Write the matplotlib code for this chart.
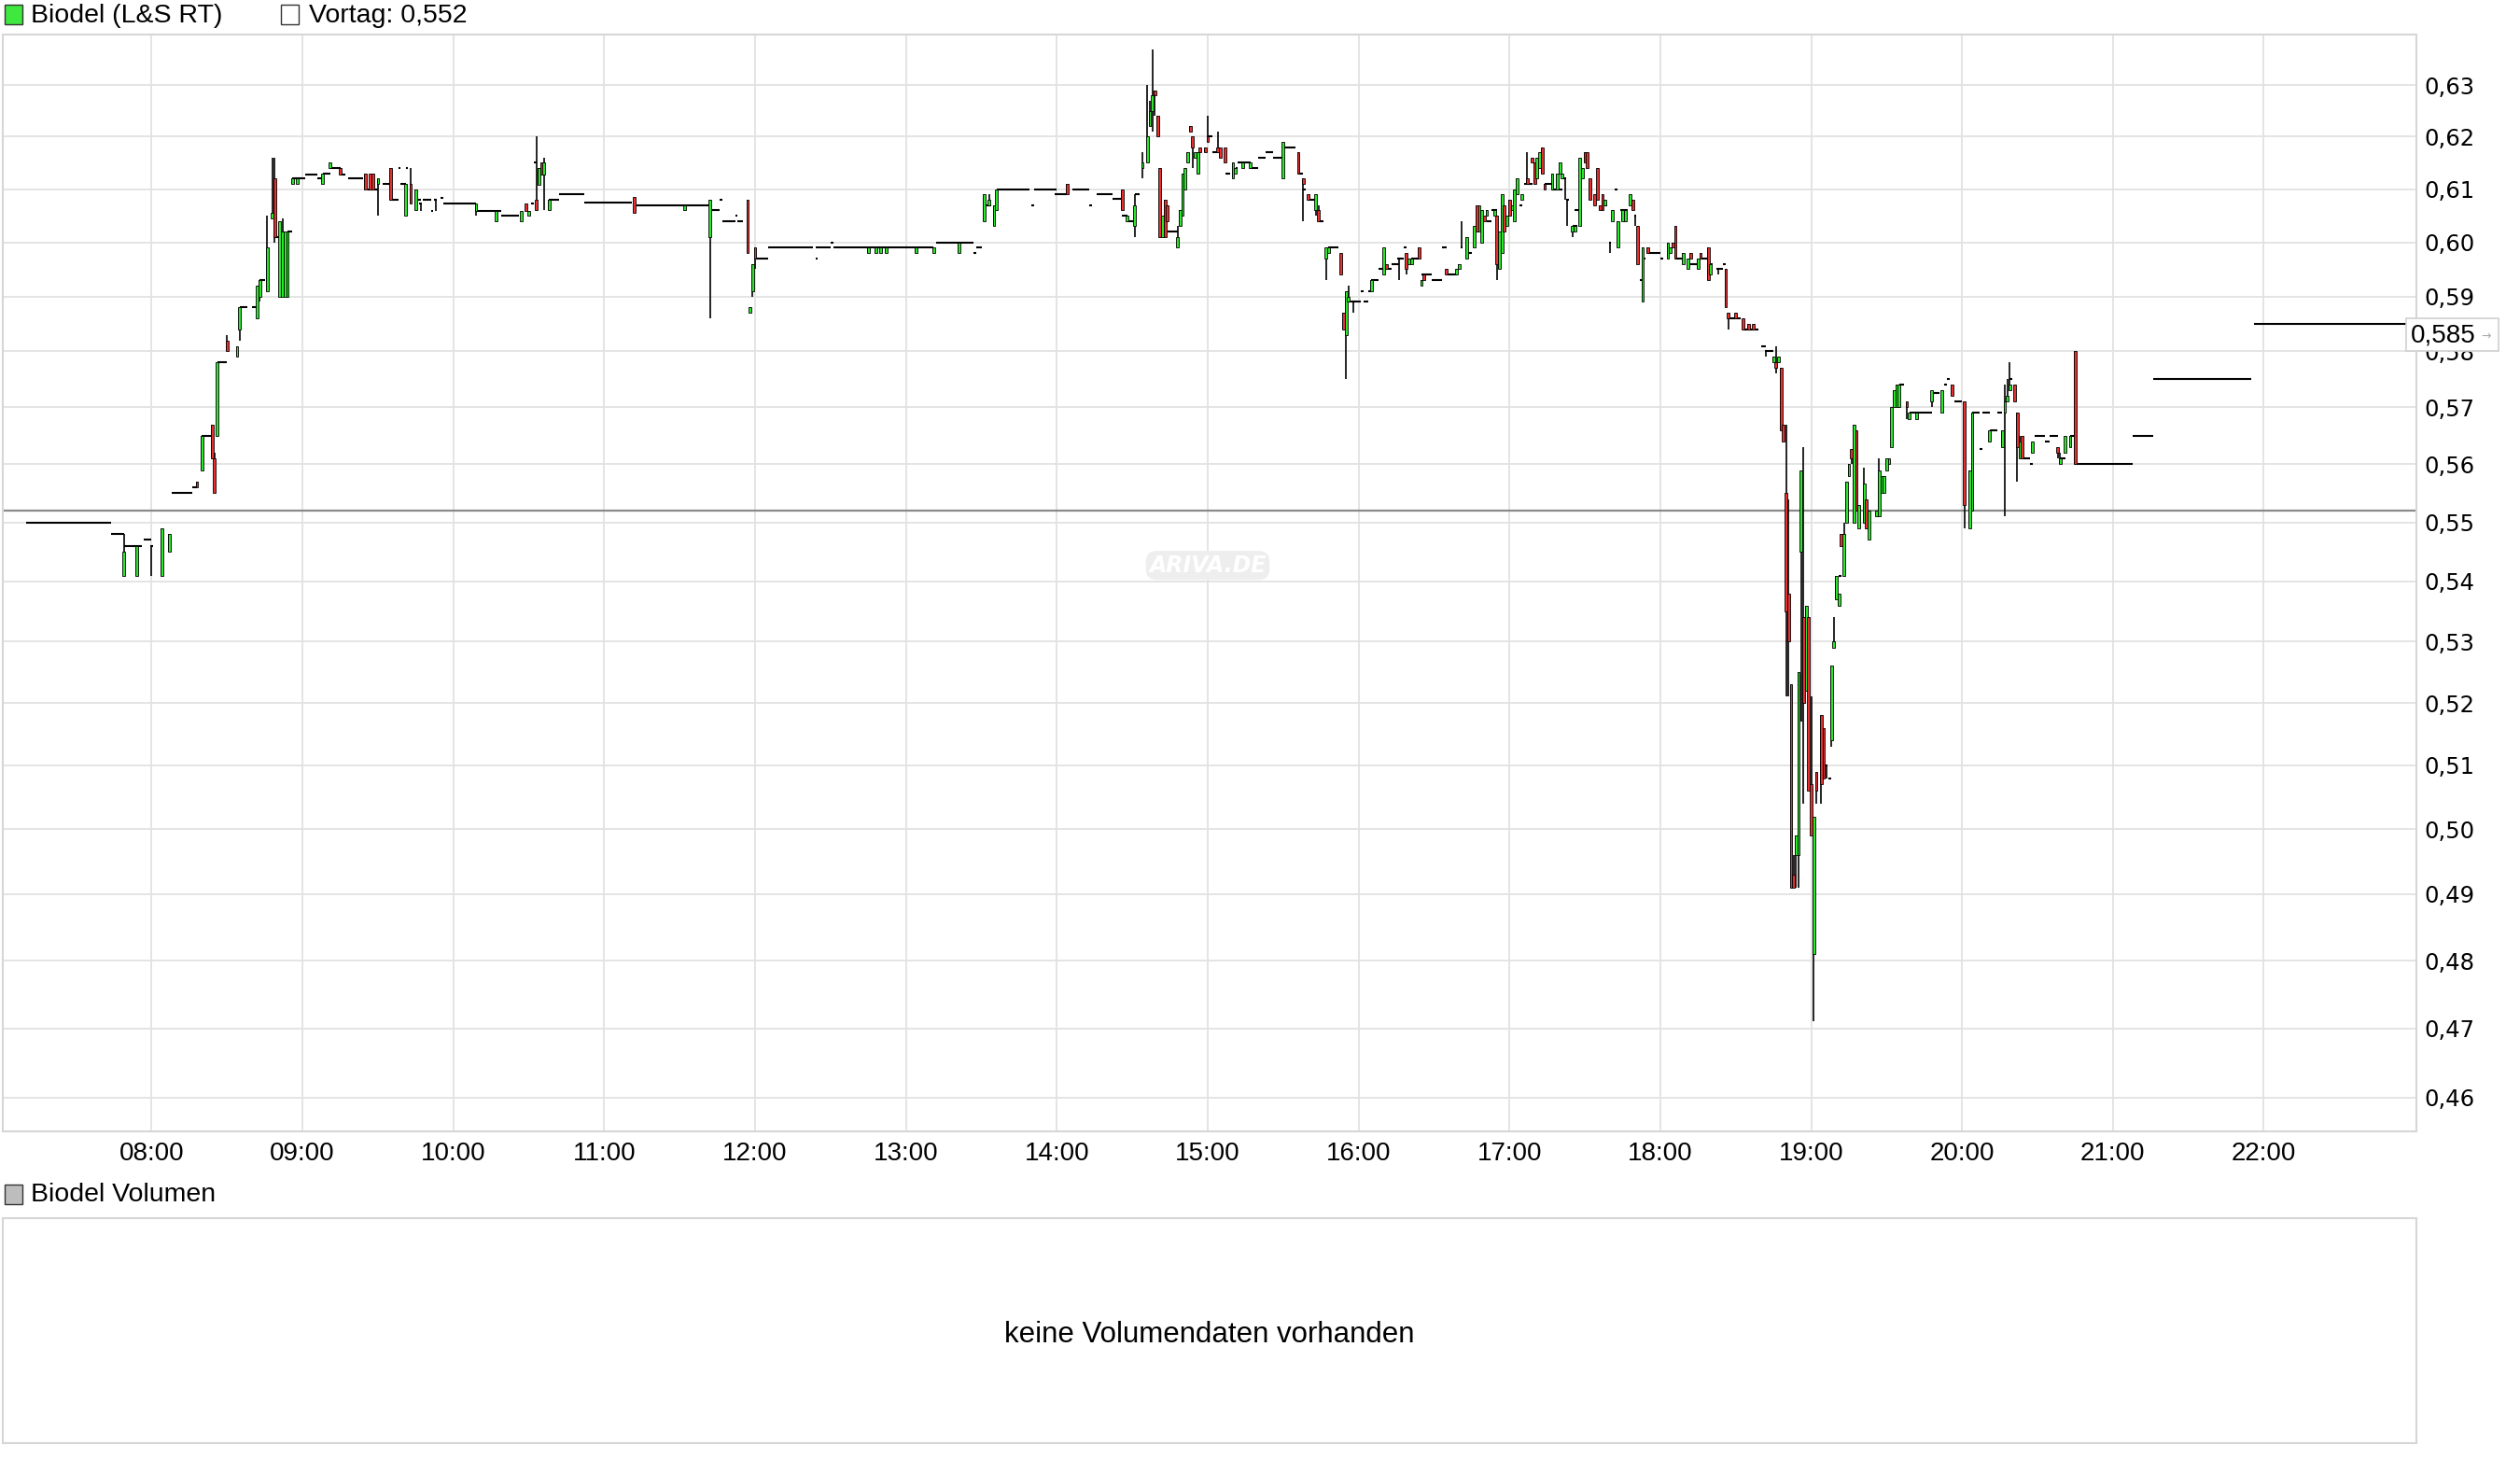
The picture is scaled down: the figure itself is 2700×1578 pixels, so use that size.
import matplotlib
matplotlib.use("Agg")
import matplotlib.pyplot as plt
from matplotlib.patches import Rectangle
from matplotlib.ticker import FixedLocator, FixedFormatter, NullLocator

# ---------------- data ----------------
title_text = "Biodel (L&S RT)"
prev_close = 0.552
last_price = 0.585

candle_time = [
 "07:49","07:54","08:00","08:04","08:07","08:18","08:20","08:24","08:25","08:26",
 "08:30","08:34","08:35","08:42","08:43","08:46","08:48","08:49","08:51","08:52",
 "08:53","08:54","08:56","08:58","09:08","09:11","09:15","09:25","09:27","09:28",
 "09:30","09:35","09:41","09:43","09:45","09:47","09:53","10:09","10:17","10:27",
 "10:29","10:30","10:33","10:34","10:35","10:36","10:38","11:12","11:32","11:42",
 "11:57","11:58","11:59","12:00","12:45","12:48","12:50","12:52","13:04","13:11",
 "13:21","13:31","13:33","13:35","13:36","14:04","14:26","14:28","14:31","14:34",
 "14:36","14:37","14:38","14:39","14:40","14:41","14:42","14:43","14:44","14:48",
 "14:49","14:50","14:51","14:52","14:53","14:54","14:55","14:56","14:57","14:59",
 "15:00","15:04","15:05","15:07","15:10","15:11","15:14","15:17","15:30","15:36",
 "15:38","15:40","15:43","15:44","15:47","15:48","15:53","15:54","15:55","15:56",
 "15:58","16:05","16:10","16:11","16:16","16:19","16:20","16:21","16:24","16:25",
 "16:26","16:35","16:39","16:40","16:41","16:43","16:46","16:47","16:48","16:49",
 "16:50","16:51","16:54","16:55","16:56","16:57","16:58","16:59","17:00","17:01",
 "17:02","17:03","17:05","17:07","17:09","17:10","17:11","17:12","17:13","17:14",
 "17:17","17:19","17:20","17:21","17:22","17:23","17:25","17:26","17:28","17:29",
 "17:30","17:31","17:32","17:34","17:35","17:36","17:37","17:38","17:40","17:41",
 "17:43","17:45","17:46","17:48","17:49","17:50","17:51","17:53","17:55","18:03",
 "18:04","18:05","18:06","18:09","18:11","18:12","18:15","18:16","18:19","18:20",
 "18:23","18:26","18:27","18:30","18:33","18:35","18:37","18:42","18:45","18:46",
 "18:47","18:48","18:49","18:50","18:51","18:52","18:53","18:54","18:55","18:56",
 "18:57","18:58","18:59","19:00","19:01","19:02","19:04","19:05","19:06","19:08",
 "19:09","19:10","19:11","19:12","19:13","19:14","19:15","19:16","19:17","19:18",
 "19:19","19:21","19:22","19:23","19:26","19:27","19:28","19:29","19:30","19:31",
 "19:32","19:33","19:34","19:35","19:38","19:39","19:42","19:48","19:52","19:56",
 "20:01","20:03","20:04","20:11","20:16","20:17","20:18","20:19","20:21","20:22",
 "20:23","20:24","20:28","20:38","20:39","20:41","20:43","20:45",
]
candle_open = [
 .541,.541,.546,.541,.545,.557,.559,.567,.561,.565,
 .582,.579,.584,.586,.590,.591,.6045,.612,.590,.590,
 .590,.590,.611,.611,.611,.614,.614,.613,.613,.613,
 .611,.614,.605,.611,.606,.6073,.608,.6059,.6039,.6039,
 .6073,.605,.608,.6108,.615,.6128,.606,.6085,.606,.601,
 .608,.587,.591,.599,.598,.598,.598,.598,.598,.598,
 .598,.604,.607,.603,.606,.611,.610,.604,.603,.614,
 .615,.622,.625,.629,.624,.614,.601,.608,.607,.599,
 .603,.605,.610,.615,.622,.620,.616,.613,.618,.618,
 .620,.618,.618,.618,.612,.613,.614,.614,.612,.617,
 .612,.609,.606,.606,.597,.598,.598,.587,.583,.589,
 .589,.591,.594,.596,.597,.598,.596,.596,.599,.592,
 .594,.595,.594,.595,.599,.597,.599,.607,.602,.600,
 .605,.605,.605,.605,.595,.598,.607,.603,.608,.606,
 .604,.609,.608,.612,.616,.615,.612,.614,.618,.611,
 .610,.610,.613,.612,.612,.608,.602,.602,.603,.612,
 .617,.617,.612,.609,.614,.607,.609,.607,.600,.604,
 .599,.604,.604,.607,.608,.605,.603,.589,.599,.597,
 .598,.600,.603,.596,.595,.598,.595,.598,.599,.594,
 .595,.595,.587,.587,.586,.585,.585,.580,.578,.578,
 .578,.577,.567,.555,.538,.523,.493,.496,.496,.545,
 .534,.522,.534,.507,.481,.509,.518,.516,.510,.514,
 .529,.537,.536,.548,.541,.550,.558,.5627,.550,.566,
 .549,.550,.554,.547,.551,.551,.555,.555,.559,.560,
 .563,.570,.570,.570,.571,.568,.568,.571,.569,.574,
 .571,.549,.552,.564,.563,.569,.571,.573,.574,.569,
 .561,.565,.562,.563,.560,.562,.563,.580,
]
candle_high = [
 .548,.546,.546,.549,.548,.557,.565,.567,.562,.578,
 .583,.581,.588,.592,.593,.605,.616,.616,.604,.6045,
 .602,.602,.612,.612,.613,.615,.614,.613,.613,.613,
 .612,.614,.611,.614,.610,.6073,.608,.6073,.6059,.6059,
 .6073,.6059,.620,.614,.615,.616,.608,.6085,.607,.608,
 .608,.588,.596,.599,.599,.599,.599,.599,.599,.599,
 .600,.609,.609,.607,.610,.611,.610,.605,.609,.617,
 .630,.627,.637,.629,.624,.614,.605,.608,.607,.603,
 .606,.613,.614,.617,.622,.620,.617,.617,.618,.618,
 .624,.621,.618,.618,.6151,.614,.6151,.6151,.619,.617,
 .612,.609,.609,.607,.599,.599,.598,.587,.591,.592,
 .589,.593,.599,.596,.597,.598,.597,.597,.599,.593,
 .594,.595,.595,.596,.604,.601,.603,.607,.607,.606,
 .605,.606,.606,.605,.602,.609,.607,.605,.608,.607,
 .610,.612,.609,.617,.616,.615,.616,.617,.618,.611,
 .613,.613,.615,.613,.612,.608,.603,.603,.616,.614,
 .617,.617,.612,.609,.614,.607,.609,.608,.600,.606,
 .604,.606,.606,.609,.608,.605,.603,.599,.599,.600,
 .599,.600,.603,.598,.597,.598,.597,.598,.599,.596,
 .595,.595,.587,.587,.586,.585,.585,.580,.579,.581,
 .579,.577,.567,.567,.554,.523,.496,.499,.525,.559,
 .563,.536,.534,.521,.502,.509,.518,.516,.510,.526,
 .534,.541,.538,.548,.550,.557,.560,.5627,.567,.566,
 .553,.5595,.554,.552,.552,.561,.558,.558,.561,.561,
 .570,.573,.574,.574,.571,.569,.569,.573,.573,.574,
 .571,.559,.569,.566,.566,.574,.575,.578,.574,.569,
 .565,.565,.564,.563,.562,.565,.565,.580,
]
candle_low = [
 .541,.541,.541,.541,.545,.556,.559,.561,.555,.565,
 .580,.579,.582,.586,.589,.591,.6045,.600,.590,.590,
 .590,.590,.611,.611,.611,.614,.6128,.610,.610,.610,
 .605,.608,.605,.6073,.606,.6059,.6059,.605,.6039,.6039,
 .6059,.605,.606,.6108,.6128,.606,.606,.6055,.606,.586,
 .598,.587,.590,.595,.598,.598,.598,.598,.598,.598,
 .598,.604,.607,.603,.606,.609,.606,.604,.601,.612,
 .615,.622,.621,.624,.620,.601,.601,.601,.604,.599,
 .603,.605,.610,.615,.621,.614,.616,.613,.617,.617,
 .619,.617,.616,.6151,.612,.613,.614,.614,.612,.613,
 .604,.608,.605,.604,.593,.598,.594,.584,.575,.589,
 .587,.591,.594,.595,.593,.594,.596,.596,.597,.592,
 .593,.594,.594,.595,.599,.597,.599,.602,.602,.600,
 .604,.605,.605,.593,.595,.598,.602,.603,.605,.606,
 .604,.609,.608,.611,.615,.611,.612,.614,.613,.610,
 .610,.610,.613,.612,.608,.603,.601,.602,.603,.612,
 .615,.614,.608,.607,.608,.606,.606,.607,.598,.604,
 .599,.604,.604,.607,.606,.603,.596,.589,.598,.597,
 .598,.599,.597,.596,.595,.597,.595,.597,.593,.594,
 .594,.588,.584,.586,.584,.584,.584,.579,.578,.576,
 .578,.566,.564,.521,.521,.491,.491,.491,.491,.517,
 .504,.522,.506,.499,.471,.504,.504,.508,.508,.513,
 .529,.537,.536,.546,.541,.550,.558,.560,.550,.552,
 .549,.550,.549,.547,.551,.551,.555,.555,.559,.560,
 .563,.570,.570,.570,.568,.568,.568,.570,.569,.572,
 .549,.549,.552,.564,.563,.551,.571,.573,.571,.557,
 .561,.561,.562,.561,.560,.562,.563,.560,
]
candle_close = [
 .545,.546,.546,.549,.548,.556,.565,.561,.555,.578,
 .580,.581,.588,.592,.593,.599,.6055,.601,.604,.602,
 .602,.602,.612,.612,.613,.615,.6128,.610,.610,.610,
 .612,.608,.611,.6073,.610,.6073,.608,.6073,.6059,.6059,
 .6059,.6059,.606,.614,.6128,.615,.608,.6055,.607,.608,
 .598,.588,.596,.597,.599,.599,.599,.599,.599,.599,
 .600,.609,.608,.607,.610,.609,.606,.605,.607,.615,
 .620,.625,.628,.628,.620,.601,.605,.601,.604,.601,
 .606,.613,.614,.617,.621,.618,.617,.617,.617,.617,
 .619,.617,.616,.6151,.6151,.614,.6151,.6151,.619,.613,
 .611,.608,.609,.604,.599,.599,.594,.584,.591,.590,
 .589,.593,.599,.595,.597,.595,.597,.597,.597,.593,
 .593,.594,.595,.596,.599,.601,.603,.602,.607,.606,
 .604,.606,.606,.596,.602,.609,.602,.605,.605,.607,
 .610,.612,.609,.611,.615,.611,.616,.617,.613,.610,
 .613,.613,.615,.613,.612,.608,.603,.603,.616,.614,
 .615,.614,.608,.607,.608,.606,.606,.608,.600,.606,
 .604,.606,.606,.609,.606,.605,.596,.599,.598,.600,
 .599,.599,.597,.598,.597,.597,.597,.597,.593,.596,
 .595,.588,.586,.586,.584,.584,.584,.580,.579,.577,
 .579,.566,.564,.535,.530,.491,.491,.499,.525,.559,
 .520,.536,.506,.499,.502,.506,.507,.508,.510,.526,
 .530,.541,.538,.546,.548,.557,.560,.561,.567,.552,
 .553,.5567,.549,.552,.552,.559,.558,.558,.561,.561,
 .570,.573,.574,.574,.570,.569,.569,.573,.573,.572,
 .553,.559,.569,.566,.566,.571,.572,.574,.571,.563,
 .564,.561,.564,.562,.561,.565,.565,.560,
]

# periods in which the price did not move (drawn as flat ticks)
flat_start = [
 "07:10","07:44","07:49","07:57","08:08","08:16","08:20","08:26","08:35","08:40",
 "08:43","08:49","08:54","08:56","09:01","09:06","09:08","09:11","09:15","09:18",
 "09:26","09:32","09:35","09:38","09:39","09:41","09:46","09:48","09:51","09:55",
 "09:56","10:09","10:19","10:31","10:32","10:38","10:42","10:52","11:13","11:43",
 "11:46","11:47","11:52","11:53","12:00","12:05","12:24","12:24","12:30","12:31",
 "12:45","13:12","13:27","13:28","13:31","13:36","13:50","13:51","13:59","14:06",
 "14:13","14:16","14:22","14:26","14:28","14:31","14:44","15:00","15:02","15:07",
 "15:11","15:12","15:17","15:20","15:23","15:26","15:30","15:36","15:38","15:40",
 "15:44","15:48","15:56","16:01","16:02","16:04","16:05","16:08","16:11","16:13",
 "16:16","16:18","16:21","16:25","16:29","16:33","16:35","16:43","16:51","16:53",
 "17:04","17:06","17:14","17:17","17:25","17:26","17:38","17:42","17:44","17:52",
 "17:53","17:55","18:00","18:06","18:12","18:16","18:20","18:23","18:25","18:27",
 "18:33","18:40","18:42","19:07","19:11","19:35","19:39","19:48","19:53","19:54",
 "19:57","20:04","20:07","20:08","20:11","20:14","20:19","20:24","20:27","20:29",
 "20:33","20:35","20:39","20:43","20:45","21:08","21:16","21:56",
]
flat_end = [
 "07:44","07:49","07:56","08:00","08:16","08:18","08:24","08:30","08:38","08:42",
 "08:45","08:51","08:56","09:01","09:06","09:08","09:11","09:15","09:17","09:24",
 "09:30","09:35","09:38","09:39","09:41","09:42","09:47","09:51","09:52","09:56",
 "10:09","10:19","10:26","10:32","10:33","10:42","10:52","11:11","11:42","11:46",
 "11:47","11:52","11:53","11:55","12:05","12:23","12:25","12:30","12:31","12:45",
 "13:11","13:27","13:28","13:30","13:34","13:49","13:51","14:00","14:04","14:13",
 "14:14","14:22","14:26","14:28","14:31","14:33","14:48","15:02","15:04","15:09",
 "15:12","15:17","15:20","15:23","15:26","15:30","15:35","15:38","15:39","15:43",
 "15:46","15:52","16:01","16:02","16:04","16:05","16:08","16:10","16:13","16:16",
 "16:18","16:19","16:24","16:29","16:33","16:35","16:39","16:45","16:53","16:55",
 "17:05","17:09","17:17","17:21","17:27","17:28","17:39","17:43","17:47","17:53",
 "17:54","18:00","18:01","18:09","18:15","18:19","18:21","18:25","18:26","18:32",
 "18:39","18:42","18:45","19:08","19:12","19:37","19:48","19:51","19:54","19:55",
 "20:00","20:07","20:08","20:11","20:14","20:16","20:20","20:27","20:28","20:33",
 "20:35","20:38","20:41","20:45","21:08","21:16","21:55","22:57",
]
flat_price = [
 .550,.548,.546,.547,.555,.556,.565,.578,.588,.588,
 .593,.601,.602,.612,.6128,.612,.613,.614,.6128,.612,
 .610,.611,.608,.614,.611,.614,.608,.608,.6059,.6083,
 .6073,.6059,.605,.6073,.615,.608,.609,.6075,.607,.6061,
 .608,.6039,.605,.6039,.597,.599,.5969,.599,.600,.599,
 .599,.600,.598,.599,.607,.610,.607,.610,.609,.610,
 .607,.6091,.6081,.605,.604,.609,.602,.620,.617,.613,
 .614,.6151,.614,.616,.617,.616,.618,.613,.610,.608,
 .604,.599,.589,.591,.589,.591,.593,.595,.595,.596,
 .597,.599,.597,.594,.593,.599,.594,.598,.604,.606,
 .607,.611,.611,.610,.603,.606,.607,.610,.606,.593,
 .597,.598,.597,.597,.596,.597,.596,.595,.596,.586,
 .584,.581,.580,.508,.541,.574,.569,.5725,.574,.575,
 .571,.569,.5627,.569,.566,.569,.575,.561,.560,.565,
 .564,.565,.561,.565,.560,.565,.575,.585,
]

y_ticks = [0.46, 0.47, 0.48, 0.49, 0.50, 0.51, 0.52, 0.53, 0.54, 0.55,
           0.56, 0.57, 0.58, 0.59, 0.60, 0.61, 0.62, 0.63]
x_ticks = ["08:00", "09:00", "10:00", "11:00", "12:00", "13:00", "14:00",
           "15:00", "16:00", "17:00", "18:00", "19:00", "20:00", "21:00", "22:00"]


def hours(s):
    h, m = s.split(":")
    return int(h) + int(m) / 60.0


def de(v, nd=2):
    return f"{v:.{nd}f}".replace(".", ",")


# ---------------- figure ----------------
W, H = 2700, 1578
DPI = 100
fig = plt.figure(figsize=(W / DPI, H / DPI), dpi=DPI)
fig.patch.set_facecolor("white")

GRID = "#e2e2e2"
FRAME = "#d6d6d6"
GREEN = "#2ee62e"
RED = "#e83030"
SANS = "Liberation Sans"


def fx(px):
    return px / W


def fy(py):
    return 1 - py / H


ax_l, ax_r, ax_t, ax_b = 3, 2589, 37, 1212
ax = fig.add_axes([fx(ax_l), fy(ax_b), fx(ax_r - ax_l), (ax_b - ax_t) / H])
ax.set_yscale("log")
ax.set_xlim(7 + 0.8 / 60, 23 + 0.7 / 60)
ax.set_ylim(0.4552, 0.6400)

ax.yaxis.set_major_locator(FixedLocator(y_ticks))
ax.yaxis.set_major_formatter(FixedFormatter([de(v) for v in y_ticks]))
ax.yaxis.set_minor_locator(NullLocator())
ax.yaxis.tick_right()
xt = [hours(s) for s in x_ticks]
ax.set_xticks(xt)
ax.set_xticklabels(x_ticks)
ax.tick_params(axis="both", length=0)
ax.tick_params(axis="y", pad=6, labelsize=17.5)
ax.tick_params(axis="x", pad=8, labelsize=20)
for lab in ax.get_yticklabels():
    lab.set_family("DejaVu Sans")
for lab in ax.get_xticklabels():
    lab.set_family(SANS)
ax.grid(True, color=GRID, linewidth=1.3, zorder=0)
ax.set_axisbelow(True)
for sp in ax.spines.values():
    sp.set_color(FRAME)
    sp.set_linewidth(1.5)

# previous close line
ax.axhline(prev_close, color="#8a8a8a", linewidth=1.6, zorder=1)

# watermark
ax.text(hours("15:00"), 0.5427, "ARIVA.DE", ha="center", va="center",
        fontsize=17, fontweight="bold", fontstyle="italic", color="white",
        family="DejaVu Sans", zorder=1,
        bbox=dict(boxstyle="round,pad=0.15,rounding_size=0.5",
                  facecolor="#eeeeee", edgecolor="none"))

# flat periods
fs = [hours(s) for s in flat_start]
fe = [hours(s) for s in flat_end]
ax.hlines(flat_price, fs, fe, color="black", linewidth=1.5, zorder=3)

# candles
bw = 1.05 / 60.0
for t, o, h, l, c in zip(candle_time, candle_open, candle_high, candle_low, candle_close):
    x = hours(t)
    if h > l:
        ax.vlines(x, l, h, color="black", linewidth=1.2, zorder=3)
    if abs(c - o) < 1e-9:
        ax.hlines(o, x - bw / 2, x + bw / 2, color="black", linewidth=1.5, zorder=4)
    else:
        lo, hi = min(o, c), max(o, c)
        ax.bar(x, hi - lo, bottom=lo, width=bw, color=GREEN if c > o else RED,
               edgecolor="black", linewidth=0.6, zorder=4)

# last price box
fig.add_artist(Rectangle((fx(2578), fy(376)), fx(99), 35 / H, transform=fig.transFigure,
                         facecolor="white", edgecolor="#d0d0d0", linewidth=1.2, zorder=10))
fig.text(fx(2583), fy(359), de(last_price, 3), ha="left", va="center", fontsize=20,
         family=SANS, color="black", zorder=11)
fig.text(fx(2664), fy(360), "\u2192", ha="center", va="center", fontsize=9,
         color="#aaaaaa", family="DejaVu Sans", zorder=11)

# header legend
fig.add_artist(Rectangle((fx(5), fy(26)), fx(19), 21 / H, transform=fig.transFigure,
                         facecolor="#3ee83e", edgecolor="#333333", linewidth=1.0))
fig.text(fx(33), fy(17), title_text, ha="left", va="center", fontsize=20.5, family=SANS)
fig.add_artist(Rectangle((fx(301), fy(26)), fx(19), 21 / H, transform=fig.transFigure,
                         facecolor="white", edgecolor="#333333", linewidth=1.0))
fig.text(fx(331), fy(17), "Vortag: " + de(prev_close, 3), ha="left", va="center",
         fontsize=20.5, family=SANS)

# volume panel
fig.add_artist(Rectangle((fx(5), fy(1290)), fx(19), 21 / H, transform=fig.transFigure,
                         facecolor="#bdbdbd", edgecolor="#333333", linewidth=1.0))
fig.text(fx(33), fy(1280), "Biodel Volumen", ha="left", va="center", fontsize=20.5,
         family=SANS)
axv = fig.add_axes([fx(ax_l), fy(1546), fx(ax_r - ax_l), (1546 - 1305) / H])
axv.set_xticks([])
axv.set_yticks([])
for sp in axv.spines.values():
    sp.set_color(FRAME)
    sp.set_linewidth(1.5)
axv.text(0.5, 0.48, "keine Volumendaten vorhanden", transform=axv.transAxes,
         ha="center", va="center", fontsize=22.5, family=SANS)

fig.savefig("out.png", dpi=DPI, facecolor="white")
